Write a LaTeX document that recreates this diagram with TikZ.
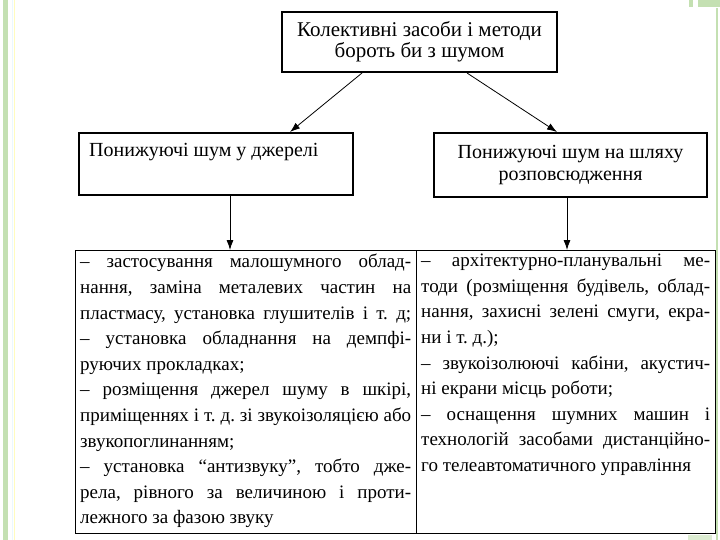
\documentclass[tikz,border=0pt]{standalone}
\usepackage{fontspec}
\setmainfont{Liberation Serif}
\usetikzlibrary{arrows.meta}
\definecolor{slidegreen}{RGB}{196,224,178}
\setlength{\parindent}{0pt}
\hyphenpenalty=10000
\exhyphenpenalty=10000
\newcommand{\bodyspacing}{\frenchspacing\spaceskip=.25em plus .8em minus .1em\relax}

\begin{document}
\begin{tikzpicture}[x=1pt,y=-1pt,
		box/.style={draw, line width=1.2pt, inner sep=0pt},
		head/.style={align=center, font=\fontsize{20}{21.5}\selectfont},
		body/.style={anchor=north west, text width=#1, align=justify, inner xsep=5pt, inner ysep=4pt,
			font=\fontsize{19}{25.6}\selectfont\bodyspacing},
		arr/.style={-{Latex[length=10pt,width=7pt]}, line width=0.8pt}]
		\useasboundingbox (0,0) rectangle (720,540);
		\fill[slidegreen] (3,0) rectangle (8,540);
		\draw[cyan!8] (12,0) -- (12,540);
		\draw[yellow!25] (14,0) -- (14,540);
		\fill[slidegreen] (716,8) rectangle (718,540);
		\fill[slidegreen] (689,0) rectangle (693,7);
		\fill[slidegreen] (698,0) rectangle (720,7);
		\fill[slidegreen!60] (688,535) rectangle (712,540);

		\draw (419.5,42) node[box, minimum width=275pt, minimum height=60pt] (top) {};
		\draw (top.center) node[head, font=\fontsize{21}{21.5}\selectfont] (toptext) {Колективні засоби і методи\\бороть би з шумом};

		\draw (216,164) node[box, minimum width=274pt, minimum height=62pt] (src) {};
		\draw (89,152) node[head, anchor=west, inner sep=0pt] (srctext) {Понижуючі шум у джерелі};

		\draw (570.5,165) node[box, minimum width=273pt, minimum height=64pt] (path) {};
		\draw (path.center) node[head] (pathtext) {Понижуючі шум на шляху\\розповсюдження};

		\draw (75,250) node[box, anchor=north west, minimum width=341pt, minimum height=283pt] (lcol) {};
		\draw (416,250) node[box, anchor=north west, minimum width=299pt, minimum height=283pt] (rcol) {};

		\draw (lcol.north west) node[body=331pt] (ltext) {%
			– застосування малошумного облад-\linebreak
			нання, заміна металевих частин на\linebreak
			пластмасу, установка глушителів і т. д;\linebreak
			– установка обладнання на демпфі-\linebreak
			руючих прокладках;\\
			– розміщення джерел шуму в шкірі,\linebreak
			приміщеннях і т. д. зі звукоізоляцією або\linebreak
			звукопоглинанням;\\
			– установка “антизвуку”, тобто дже-\linebreak
			рела, рівного за величиною і проти-\linebreak
			лежного за фазою звуку};
		\draw (rcol.north west) node[body=289pt] (rtext) {%
			– архітектурно-планувальні ме-\linebreak
			тоди (розміщення будівель, облад-\linebreak
			нання, захисні зелені смуги, екра-\linebreak
			ни і т. д.);\\
			– звукоізолюючі кабіни, акустич-\linebreak
			ні екрани місць роботи;\\
			– оснащення шумних машин і\linebreak
			технологій засобами дистанційно-\linebreak
			го телеавтоматичного управління};

		\coordinate (t1) at (362,73);
		\coordinate (t2) at (467,73);
		\coordinate (s1) at (290,132);
		\coordinate (p1) at (557,132);
		\coordinate (d1) at (230,196);
		\coordinate (d2) at (567,197);

		\draw [arr] (t1) -- (s1);
		\draw [arr] (t2) -- (p1);
		\draw [arr] (d1) -- (d1 |- lcol.north);
		\draw [arr] (d2) -- (d2 |- rcol.north);
	\end{tikzpicture}
\end{document}
